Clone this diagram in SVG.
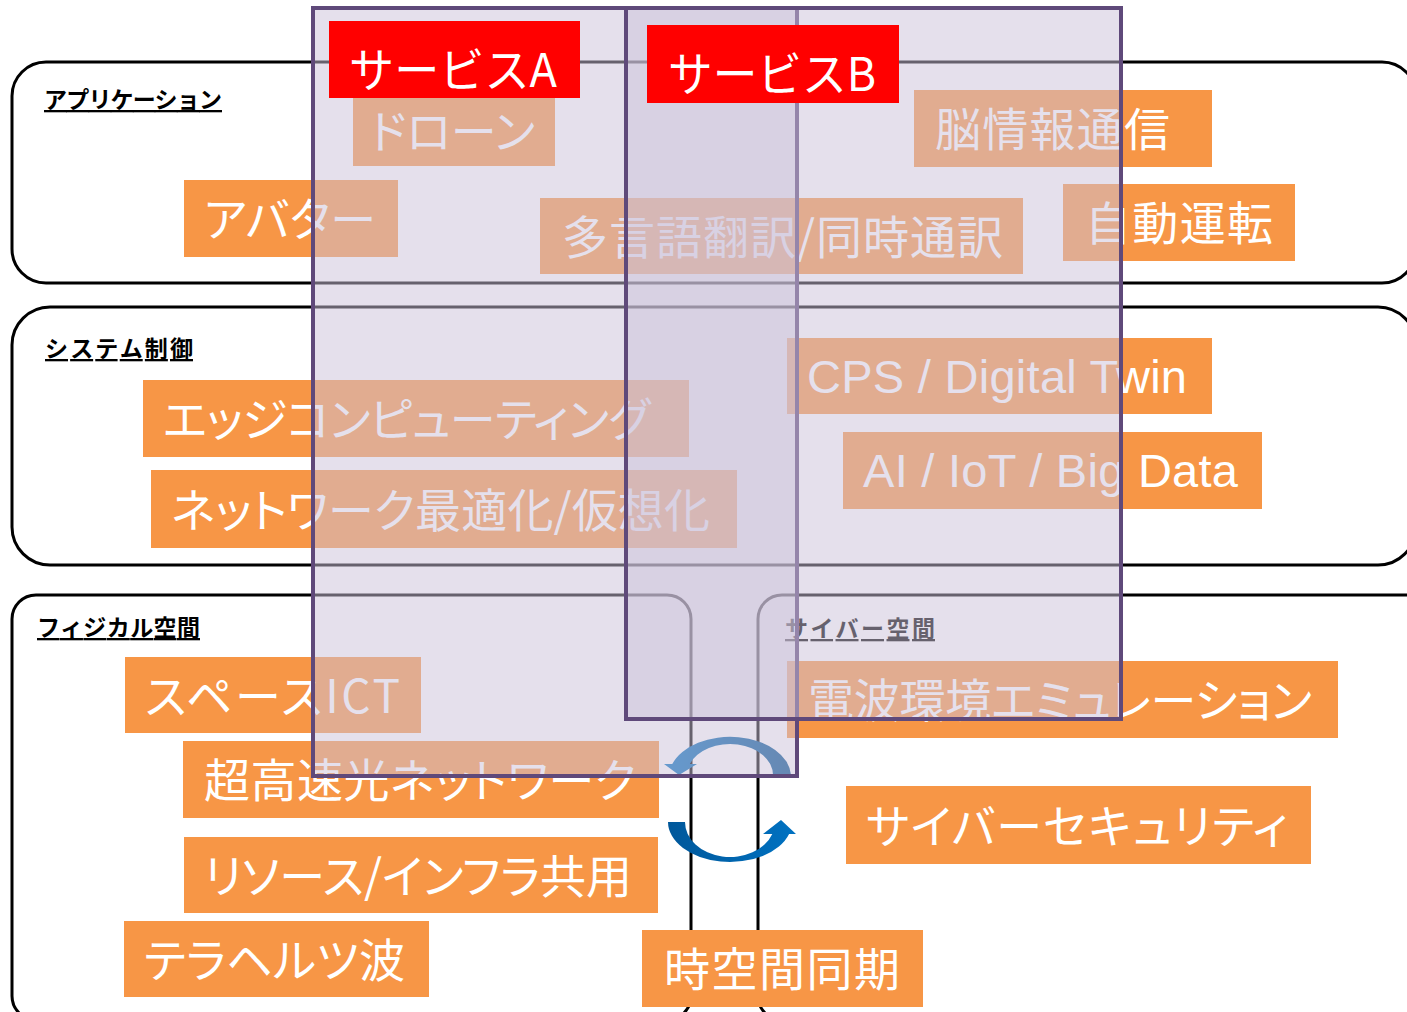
<svg xmlns="http://www.w3.org/2000/svg" width="1407" height="1012" viewBox="0 0 1407 1012">
<defs>
<style>
.layer{fill:#fff;stroke:#000;stroke-width:3}
.lbl{font-family:"Noto Sans CJK JP","Noto Sans",sans-serif;font-weight:700;font-size:23px;fill:#000;text-decoration:underline}
.ob{fill:#f79646}
.ot{font-family:"Noto Sans CJK JP","Noto Sans",sans-serif;font-size:46px;fill:#fff;font-feature-settings:"palt"}
.lt{font-family:"Liberation Sans",Arial,sans-serif;font-size:47px;fill:#fff}
.svc{fill:#ccc1da;fill-opacity:.5;stroke:#5f497a;stroke-width:4}
.rb{fill:#f00}
.rt{font-family:"Noto Sans CJK JP",sans-serif;font-size:47px;fill:#fff}
</style>
<linearGradient id="gL" x1="0" y1="0" x2="1" y2="0"><stop offset="0" stop-color="#00579a"/><stop offset="1" stop-color="#0072c2"/></linearGradient>
<linearGradient id="gU" x1="0" y1="0" x2="1" y2="0"><stop offset="0" stop-color="#0072c2"/><stop offset="1" stop-color="#004f8c"/></linearGradient>
</defs>
<rect width="1407" height="1012" fill="#fff"/>

<g id="layer-application">
<rect class="layer" x="12" y="62" width="1404" height="221" rx="34"/>
<text class="lbl" x="44" y="108" textLength="178">アプリケーション</text>
</g>
<g id="layer-system">
<rect class="layer" x="12" y="307" width="1404" height="258" rx="38"/>
<text class="lbl" x="45" y="357" textLength="148">システム制御</text>
</g>
<g id="layer-physical">
<rect class="layer" x="12" y="595" width="679" height="425" rx="24"/>
<text class="lbl" x="37" y="636" textLength="163">フィジカル空間</text>
</g>
<g id="layer-cyber">
<rect class="layer" x="758" y="595" width="700" height="425" rx="24"/>
<text class="lbl" x="785" y="637" textLength="150">サイバー空間</text>
</g>

<g id="drone"><rect class="ob" x="353" y="89" width="202" height="77"/><text class="ot" x="370" y="148" textLength="165">ドローン</text></g>
<g id="avatar"><rect class="ob" x="184" y="180" width="214" height="77"/><text class="ot" x="204" y="236" textLength="172">アバター</text></g>
<g id="translation"><rect class="ob" x="540" y="198" width="483" height="76"/><text class="ot" x="562" y="254" textLength="441">多言語翻訳/同時通訳</text></g>
<g id="brain"><rect class="ob" x="914" y="90" width="298" height="77"/><text class="ot" x="935" y="146" textLength="235">脳情報通信</text></g>
<g id="autodrive"><rect class="ob" x="1063" y="184" width="232" height="77"/><text class="ot" x="1085" y="240" textLength="188">自動運転</text></g>
<g id="edge"><rect class="ob" x="143" y="380" width="546" height="77"/><text class="ot" x="163" y="436" textLength="487">エッジコンピューティング</text></g>
<g id="network-opt"><rect class="ob" x="151" y="470" width="586" height="78"/><text class="ot" x="171" y="527" textLength="539">ネットワーク最適化/仮想化</text></g>
<g id="cps"><rect class="ob" x="787" y="338" width="425" height="76"/><text class="lt" x="807" y="393" textLength="380">CPS / Digital Twin</text></g>
<g id="ai"><rect class="ob" x="843" y="432" width="419" height="77"/><text class="lt" x="863" y="487" textLength="375">AI / IoT / Big Data</text></g>
<g id="space-ict"><rect class="ob" x="125" y="657" width="296" height="76"/><text class="ot" x="145" y="713" textLength="255">スペースICT</text></g>
<g id="optical"><rect class="ob" x="183" y="741" width="476" height="77"/><text class="ot" x="204" y="797" textLength="432">超高速光ネットワーク</text></g>
<g id="resource"><rect class="ob" x="184" y="837" width="474" height="76"/><text class="ot" x="204" y="893" textLength="428">リソース/インフラ共用</text></g>
<g id="terahertz"><rect class="ob" x="124" y="921" width="305" height="76"/><text class="ot" x="144" y="977" textLength="261">テラヘルツ波</text></g>
<g id="sync"><rect class="ob" x="642" y="930" width="281" height="77"/><text class="ot" x="664" y="986" textLength="236">時空間同期</text></g>
<g id="radio-emu"><rect class="ob" x="787" y="661" width="551" height="77"/><text class="ot" x="808" y="717" textLength="504">電波環境エミュレーション</text></g>
<g id="security"><rect class="ob" x="846" y="786" width="465" height="78"/><text class="ot" x="866" y="843" textLength="422">サイバーセキュリティ</text></g>

<g id="connectors">
<path fill="url(#gU)" d="M791,775 A61,40 0 0 0 672.3,764 L664,764 L679,775 L697,764 L689.8,764 A43,31 0 0 1 773,775 Z"/>
<path fill="url(#gL)" d="M668,822 A62,40 0 0 0 789.1,834 L796,834 L781,820 L763,834 L772.3,834 A45,35 0 0 1 685,822 Z"/>
</g>

<g id="service-a-area"><rect class="svc" x="313" y="8" width="484" height="768"/></g>
<g id="service-b-area"><rect class="svc" x="626" y="8" width="495" height="711"/></g>

<g id="service-a"><rect class="rb" x="329" y="21" width="251" height="77"/><text class="rt" x="349" y="87" textLength="208" lengthAdjust="spacingAndGlyphs">サービスA</text></g>
<g id="service-b"><rect class="rb" x="647" y="25" width="252" height="78"/><text class="rt" x="668" y="91" textLength="208" lengthAdjust="spacingAndGlyphs">サービスB</text></g>
</svg>
